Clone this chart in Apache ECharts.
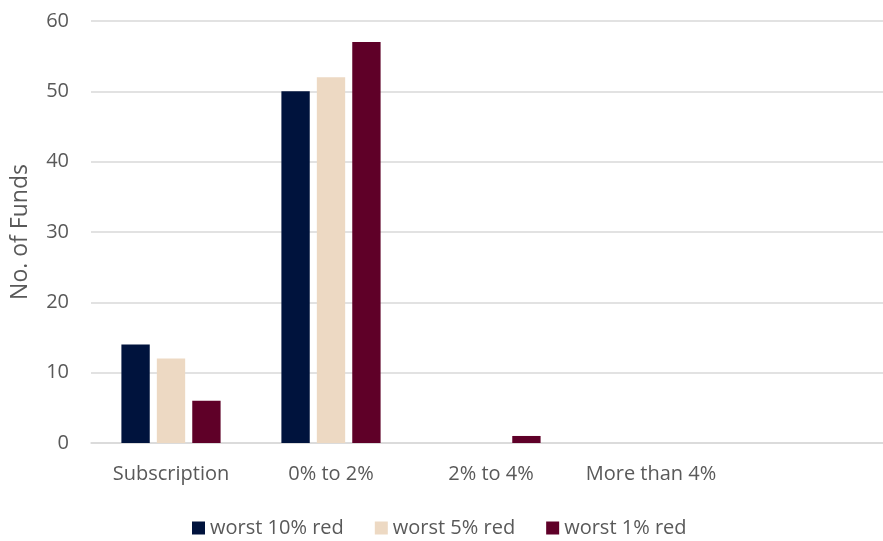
<!DOCTYPE html>
<html><head><meta charset="utf-8">
<script src="https://cdn.jsdelivr.net/npm/echarts@6/dist/echarts.min.js"></script>
<style>html,body{margin:0;padding:0;background:#fff}#c{width:883px;height:541px}</style>
</head><body><div id="c"></div>
<script>
const categories = ["Subscription", "0% to 2%", "2% to 4%", "More than 4%", ""];
const worst10 = [14, 50, 0, 0, null];
const worst5 = [12, 52, 0, 0, null];
const worst1 = [6, 57, 1, 0, null];
const seriesNames = ["worst 10% red", "worst 5% red", "worst 1% red"];
const yTicks = [0, 10, 20, 30, 40, 50, 60];

const font = "'Open Sans', 'Liberation Sans', sans-serif";
const txt = "#595959";
const chart = echarts.init(document.getElementById('c'));
chart.setOption({
  animation: false,
  color: ["#00133D", "#EDD9C3", "#5F0028"],
  grid: { left: 91, width: 800, top: 21, bottom: 98, containLabel: false, outerBoundsMode: 'none' },
  legend: {
    top: 513, left: 187, itemWidth: 13, itemHeight: 13, itemGap: 31,
    icon: 'rect',
    textStyle: { color: txt, fontSize: 20, fontFamily: font },
    data: seriesNames
  },
  xAxis: {
    type: 'category', data: categories,
    axisLine: { show: true, lineStyle: { color: '#D9D9D9', width: 1.5 } },
    axisTick: { show: false },
    axisLabel: { color: txt, fontSize: 20, fontFamily: font, margin: 21, interval: 0 }
  },
  yAxis: {
    type: 'value', min: yTicks[0], max: yTicks[yTicks.length-1], interval: 10,
    name: 'No. of Funds', nameLocation: 'middle', nameGap: 59, nameRotate: 90,
    nameTextStyle: { color: txt, fontSize: 23, fontFamily: font },
    axisLine: { show: false }, axisTick: { show: false },
    axisLabel: { color: txt, fontSize: 20, fontFamily: font, margin: 22 },
    splitLine: { lineStyle: { color: '#D9D9D9', width: 1.5 } }
  },
  series: [
    { name: seriesNames[0], type: 'bar', data: worst10, barGap: '25%', barCategoryGap: '38%' },
    { name: seriesNames[1], type: 'bar', data: worst5, barGap: '25%', barCategoryGap: '38%' },
    { name: seriesNames[2], type: 'bar', data: worst1, barGap: '25%', barCategoryGap: '38%' }
  ]
});
</script></body></html>
